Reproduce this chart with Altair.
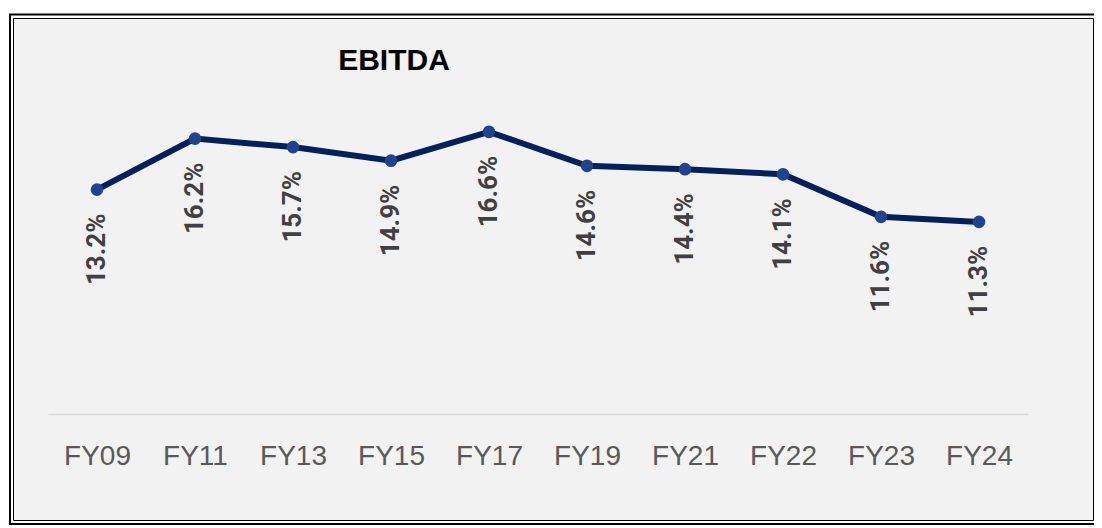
import altair as alt
import pandas as pd

categories = ["FY09", "FY11", "FY13", "FY15", "FY17", "FY19", "FY21", "FY22", "FY23", "FY24"]
values = [13.2, 16.2, 15.7, 14.9, 16.6, 14.6, 14.4, 14.1, 11.6, 11.3]
labels = [f"{v:.1f}%" for v in values]

df = pd.DataFrame({"fy": categories, "v": values, "lab": labels})
one = pd.DataFrame({"a": [0]})

x_enc = alt.X(
    "fy:N", sort=categories, title=None,
    axis=alt.Axis(labelAngle=0, ticks=False, grid=False, domainColor="#d9d9d9", domainWidth=1.5,
                  labelFontSize=28, labelColor="#595959", labelFont="Liberation Sans", labelPadding=28,
                  zindex=1),
)
y_enc = alt.Y("v:Q", scale=alt.Scale(domain=[0, 20]), axis=None)

base = alt.Chart(df).encode(x=x_enc, y=y_enc)

inner = alt.Chart(one).mark_rect(fill="#f2f2f2", stroke="black", strokeWidth=1).encode(
    x=alt.value(-34.5), x2=alt.value(1045.5), y=alt.value(-55.5), y2=alt.value(446.5))
outer = alt.Chart(one).mark_rect(fill="transparent", stroke="black", strokeWidth=2).encode(
    x=alt.value(-38), x2=alt.value(1060), y=alt.value(-59.5), y2=alt.value(450))

line = base.mark_line(color="#002060", strokeWidth=6)
pts = base.mark_circle(size=160, color="#1f448f", opacity=1)
txt = base.mark_text(angle=270, align="right", baseline="middle", dx=-24,
                     font="Roboto, Liberation Sans", fontWeight="bold", fontSize=26,
                     color="#404040").encode(text="lab:N")

chart = alt.layer(inner, outer, line, pts, txt).properties(
    width=980, height=340,
    title=alt.TitleParams("EBITDA", anchor="middle", dx=-144, dy=70, fontSize=30, font="Liberation Sans",
                          fontWeight="bold", color="black", offset=8, zindex=1),
    autosize=alt.AutoSizeParams(type="none"),
    padding={"left": 40, "top": 66, "right": 66, "bottom": 112},
    background="white",
).configure_view(stroke=None)

chart.save("out.html", embed_options={"renderer": "svg", "actions": False})
